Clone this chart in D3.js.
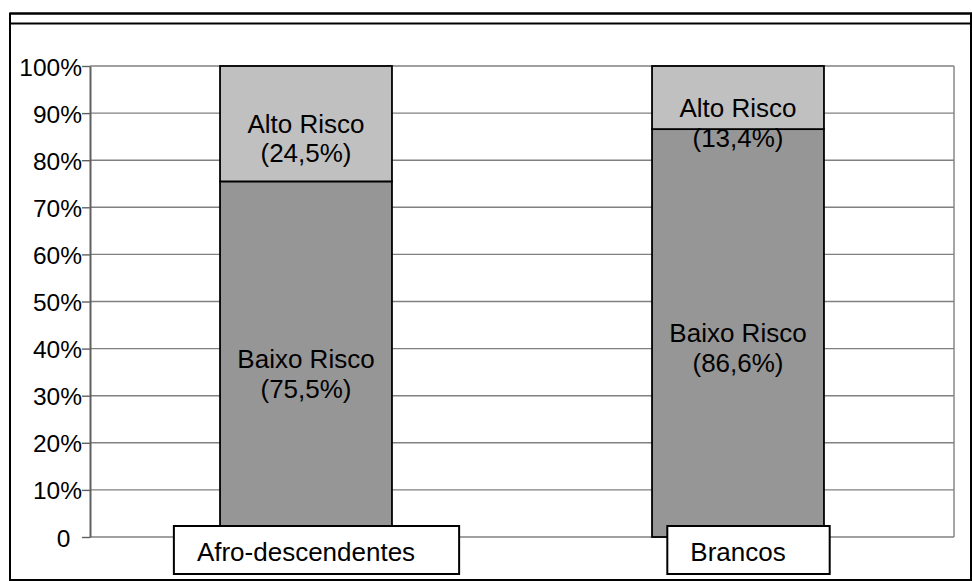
<!DOCTYPE html>
<html>
<head>
<meta charset="utf-8">
<script src="https://cdn.jsdelivr.net/npm/d3@7"></script>
<style>
  html, body { margin: 0; padding: 0; background: #fff; }
  svg { display: block; }
  text { font-family: "Liberation Sans", Arial, sans-serif; fill: #000; }
</style>
</head>
<body>
<svg id="chart" width="972" height="581"></svg>
<script>
// ---- data ----
const categories = ["Afro-descendentes", "Brancos"];
const seriesNames = ["Baixo Risco", "Alto Risco"];
const baixoRisco = [75.5, 86.6];
const altoRisco = [24.5, 13.4];
const yTickValues = [0, 10, 20, 30, 40, 50, 60, 70, 80, 90, 100];
const yTickLabels = ["0\u00A0\u2009", "10%", "20%", "30%", "40%", "50%", "60%", "70%", "80%", "90%", "100%"];
const seriesColors = ["#969696", "#C0C0C0"];

// ---- layout ----
const W = 972, H = 581;
const plot = { left: 90, right: 954, top: 66, bottom: 537 };

const svg = d3.select("#chart");

const x = d3.scaleBand()
  .domain(categories)
  .range([plot.left, plot.right])
  .paddingInner(0.602)
  .paddingOuter(0.301);

const y = d3.scaleLinear().domain([0, 100]).range([plot.bottom, plot.top]);

// outer frame
svg.append("line").attr("x1", 10).attr("x2", W).attr("y1", 13.5).attr("y2", 13.5)
  .attr("stroke", "#000").attr("stroke-width", 2);
svg.append("rect").attr("x", 10).attr("y", 13.5).attr("width", 961).attr("height", 566.5)
  .attr("fill", "none").attr("stroke", "#000").attr("stroke-width", 2);
svg.append("line").attr("x1", 10).attr("x2", 971).attr("y1", 23.5).attr("y2", 23.5)
  .attr("stroke", "#000").attr("stroke-width", 2);

// gridlines
svg.append("g").selectAll("line").data(yTickValues).join("line")
  .attr("x1", plot.left).attr("x2", plot.right)
  .attr("y1", d => y(d)).attr("y2", d => y(d))
  .attr("stroke", "#808080").attr("stroke-width", 1.4);
// plot right border
svg.append("line").attr("x1", plot.right).attr("x2", plot.right)
  .attr("y1", plot.top).attr("y2", plot.bottom)
  .attr("stroke", "#808080").attr("stroke-width", 1.4);

// y axis
const yAxis = d3.axisLeft(y)
  .tickValues(yTickValues)
  .tickFormat((d, i) => yTickLabels[i])
  .tickSize(8)
  .tickPadding(0)
  .tickSizeOuter(0);
const gy = svg.append("g").attr("transform", `translate(${plot.left},0)`).call(yAxis);
gy.select(".domain").attr("stroke", "#606060").attr("stroke-width", 2);
gy.selectAll(".tick line").attr("stroke", "#606060").attr("stroke-width", 1.4);
gy.selectAll(".tick text")
  .attr("dy", "0.37em")
  .attr("font-size", 24.5)
  .attr("text-anchor", "end")
  .style("white-space", "pre");

// stacked bars
const rows = categories.map((c, i) => ({ cat: c, "Baixo Risco": baixoRisco[i], "Alto Risco": altoRisco[i] }));
const stack = d3.stack().keys(seriesNames)(rows);

const segs = svg.append("g");
stack.forEach((layer, li) => {
  segs.selectAll(null).data(layer).join("rect")
    .attr("x", d => x(d.data.cat))
    .attr("y", d => y(d[1]))
    .attr("width", x.bandwidth())
    .attr("height", d => y(d[0]) - y(d[1]))
    .attr("fill", seriesColors[li])
    .attr("stroke", "#000")
    .attr("stroke-width", 1.8);
});

// segment labels
const fmt = v => "(" + v.toFixed(1).replace(".", ",") + "%)";
const lineGap = 29.5;
stack.forEach((layer, li) => {
  layer.forEach(d => {
    const cx = x(d.data.cat) + x.bandwidth() / 2;
    const mid = (y(d[0]) + y(d[1])) / 2;
    const b1 = Math.max(mid + 9, plot.top + 51);
    const v = d[1] - d[0];
    [seriesNames[li], fmt(v)].forEach((t, k) => {
      svg.append("text")
        .attr("font-size", 26)
        .attr("text-anchor", "middle")
        .attr("x", cx)
        .attr("y", b1 + k * lineGap)
        .text(t);
    });
  });
});

// category label boxes
categories.forEach(c => {
  const cx = x(c) + x.bandwidth() / 2;
  const g = svg.append("g");
  const rect = g.append("rect");
  const t = g.append("text")
    .attr("font-size", 26)
    .attr("text-anchor", "middle")
    .attr("x", cx)
    .attr("y", 561)
    .text(c);
  const tw = t.node().getComputedTextLength();
  rect.attr("x", cx - tw / 2 - 23).attr("y", 526)
    .attr("width", tw + 67).attr("height", 48)
    .attr("fill", "#fff").attr("stroke", "#000").attr("stroke-width", 2);
});
</script>
</body>
</html>
